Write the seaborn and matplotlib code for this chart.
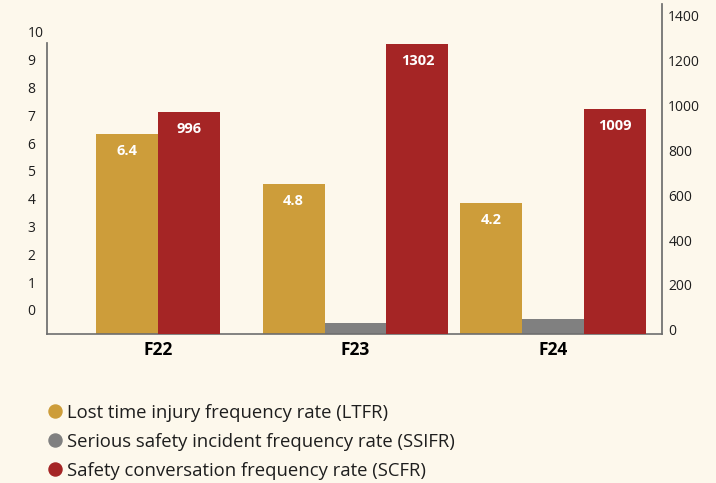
import matplotlib.pyplot as plt
from matplotlib.lines import Line2D
import seaborn as sns
import pandas as pd
import numpy as np

# data
years = ['F22', 'F23', 'F24']
ltfr = [6.4, 4.8, 4.2]
ssifr = [np.nan, 0.35, 0.48]   # no bar shown for F22
scfr = [996, 1302, 1009]
series = ['Lost time injury frequency rate (LTFR)',
          'Serious safety incident frequency rate (SSIFR)',
          'Safety conversation frequency rate (SCFR)']
left_ticks = list(range(0, 11))
right_ticks = list(range(0, 1401, 200))

colors = ['#CD9D3A', '#808080', '#A52525']
bg = '#FDF8EC'
ink = '#1E1E1E'
spine_col = '#6E6E6E'
bar_w = 0.313   # width of one bar in category units

sns.set_theme(style='white')
plt.rcParams['font.family'] = ['Open Sans', 'DejaVu Sans']

fig = plt.figure(figsize=(7.16, 4.83), dpi=100, facecolor=bg)
ax = fig.add_axes([0.0656, 0.3085, 0.859, 0.6832])
ax.set_facecolor(bg)
ax_scfr = ax.twinx()

df = pd.DataFrame({'year': years * 3,
                   'series': [s for s in series for _ in years],
                   'value': ltfr + ssifr + scfr}).dropna()
palette = dict(zip(series, colors))

# one call per year so each group is centred on the bars it actually has
for yr in years:
    sub = df[df['year'] == yr]
    present = [s for s in series if s in set(sub['series'])]
    kw = dict(x='year', y='value', hue='series', order=years, hue_order=present,
              palette=palette, width=bar_w * len(present), dodge=True,
              saturation=1, legend=False, linewidth=0)
    sns.barplot(data=sub[sub['series'] != series[2]], ax=ax, **kw)
    sns.barplot(data=sub[sub['series'] == series[2]], ax=ax_scfr, **kw)

ax.set_xlim(-0.56, 2.55)
ax.set_ylim(0, 10.58)
ax_scfr.set_ylim(0, 1483)

# value labels inside the top of the bars
ltfr_bars = [p for p in ax.patches
             if np.allclose(p.get_facecolor()[:3], plt.matplotlib.colors.to_rgb(colors[0]))]
for bar, v in zip(ltfr_bars, ltfr):
    ax.annotate(f'{v}', (bar.get_x() + bar.get_width() / 2, bar.get_height()),
                xytext=(0, -12), textcoords='offset points', ha='center', va='center',
                color='white', fontsize=10.5, fontweight='bold')
for bar, v in zip(ax_scfr.patches, scfr):
    ax_scfr.annotate(f'{v}', (bar.get_x() + bar.get_width() / 2, bar.get_height()),
                     xytext=(0, -12), textcoords='offset points', ha='center', va='center',
                     color='white', fontsize=10.5, fontweight='bold')

for a in (ax, ax_scfr):
    a.set(xlabel='', ylabel='')
    a.set_yticks([])
    for s in a.spines.values():
        s.set_visible(False)
ax.spines['bottom'].set_visible(True)
ax.spines['bottom'].set_color(spine_col)
ax.spines['bottom'].set_linewidth(1.2)
ax.tick_params(axis='x', length=0, pad=5, labelsize=12.5, labelcolor='black')
for lbl in ax.get_xticklabels():
    lbl.set_fontweight('bold')

# left tick scale
ax_left = ax.twinx()
ax_left.yaxis.tick_left()
ax_left.set_ylim(-0.863, 11.0)
ax_left.set_yticks(left_ticks)
ax_left.tick_params(axis='y', length=0, pad=14, labelsize=10, labelcolor=ink)
for lbl in ax_left.get_yticklabels():
    lbl.set_ha('left')
for s in ax_left.spines.values():
    s.set_visible(False)
ax_left.spines['left'].set_visible(True)
ax_left.spines['left'].set_color(spine_col)
ax_left.spines['left'].set_bounds(-0.863, 9.6)

# right tick scale
ax_right = ax.twinx()
ax_right.set_ylim(-17.8, 1449)
ax_right.set_yticks(right_ticks)
ax_right.tick_params(axis='y', length=0, pad=4.5, labelsize=10, labelcolor=ink)
for s in ax_right.spines.values():
    s.set_visible(False)
ax_right.spines['right'].set_visible(True)
ax_right.spines['right'].set_color(spine_col)

handles = [Line2D([], [], marker='o', linestyle='', markersize=9.4,
                  markerfacecolor=c, markeredgecolor=c) for c in colors]
fig.legend(handles, series, loc='upper left', bbox_to_anchor=(0.0677, 0.164),
           frameon=False, fontsize=13.3, handlelength=0.7, handletextpad=0.31,
           labelspacing=0.6, borderpad=0, borderaxespad=0, labelcolor=ink)

fig.savefig('out.png', dpi=100, facecolor=bg)
